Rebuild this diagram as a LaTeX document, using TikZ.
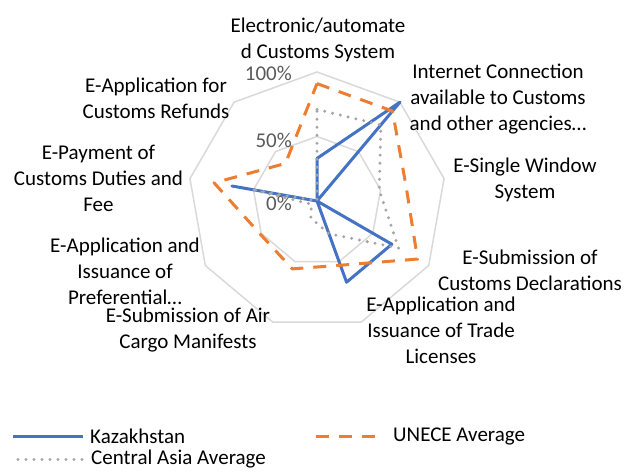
\documentclass[tikz,border=0pt]{standalone}
\usepackage{fontspec}
\setmainfont{Carlito}
\usepackage{xcolor}
\usepackage{tikz}

\definecolor{kazblue}{HTML}{4472C4}
\definecolor{uneceorange}{HTML}{ED7D31}
\definecolor{cagray}{HTML}{A5A5A5}
\definecolor{ringgray}{HTML}{D9D9D9}
\definecolor{ticktext}{HTML}{595959}

% series values, clockwise from the top axis
\newcommand{\kazvals}{0.33,1,0,0.67,0.67,0,0,0.67,0}
\newcommand{\unecevals}{0.91,0.91,0.70,0.90,0.53,0.56,0.51,0.81,0.38}
\newcommand{\cavals}{0.71,0.77,0.49,0.73,0.27,0.14,0.05,0.52,0}

\begin{document}
\begin{tikzpicture}[x=1pt,y=1pt,
    ring/.style={ringgray,line width=1.5pt},
    kazline/.style={kazblue,line width=3pt,line join=round},
    unline/.style={uneceorange,line width=3pt,line join=round,dash pattern=on 13pt off 10pt},
    caline/.style={cagray,line width=3.3pt,line cap=round,line join=round,dash pattern=on 0pt off 8pt},
    catlabel/.style={align=center,inner sep=0pt,font=\fontsize{21}{26}\selectfont},
    ticklabel/.style={anchor=east,inner sep=0pt,text=ticktext,font=\fontsize{21}{26}\selectfont},
    legtext/.style={anchor=west,inner sep=0pt,font=\fontsize{21}{26}\selectfont}]
    \useasboundingbox (0,0) rectangle (628,471);

    \begin{scope}[shift={(317,270)}]
        % Grid rings
        \foreach \r in {64.5,129}
            \draw[ring] (90:\r) \foreach \i in {1,...,8} {-- (90-40*\i:\r)} -- cycle;

        % Tick labels
        \node[ticklabel] (t0) at (-25,-2) {0\%};
        \node[ticklabel] (t50) at (-25,61) {50\%};
        \node[ticklabel] (t100) at (-25,128) {100\%};

        % Series points
        \foreach \v [count=\i from 0] in \kazvals
            \coordinate (kaz\i) at (90-40*\i:129*\v);
        \foreach \v [count=\i from 0] in \unecevals
            \coordinate (un\i) at (90-40*\i:129*\v);
        \foreach \v [count=\i from 0] in \cavals
            \coordinate (ca\i) at (90-40*\i:129*\v);

        % Series
        \draw[kazline] (kaz0) \foreach \i in {1,...,8} {-- (kaz\i)} -- cycle;
        \draw[unline] (un0) \foreach \i in {1,...,8} {-- (un\i)} -- cycle;
        \draw[caline] (ca0) \foreach \i in {1,...,8} {-- (ca\i)} -- cycle;
    \end{scope}

    % Category labels
    \node[catlabel] (c0) at (318,431.5) {Electronic/automate\\d Customs System};
    \node[catlabel] (c1) at (498,372) {Internet Connection\\available to Customs\\and other agencies…};
    \node[catlabel] (c2) at (525,291) {E-Single Window\\System};
    \node[catlabel] (c3) at (530,201) {E-Submission of\\Customs Declarations};
    \node[catlabel] (c4) at (441,141) {E-Application and\\Issuance of Trade\\Licenses};
    \node[catlabel] (c5) at (188,141) {E-Submission of Air\\Cargo Manifests};
    \node[catlabel] (c6) at (125,200) {E-Application and\\Issuance of\\Preferential…};
    \node[catlabel] (c7) at (98.5,293) {E-Payment of\\Customs Duties and\\Fee};
    \node[catlabel] (c8) at (156,372.5) {E-Application for\\Customs Refunds};

    % Legend
    \node[legtext] (kazleg) at (90,35) {Kazakhstan};
    \draw[kazline] ([xshift=-7pt]kazleg.west) -- ++(-70,0);
    \node[legtext] (unleg) at (393,35) {UNECE Average};
    \draw[unline] ([xshift=-18pt]unleg.west) -- ++(-60,0);
    \node[legtext] (caleg) at (91,11.5) {Central Asia Average};
    \draw[caline] ([xshift=-9pt]caleg.west) -- ++(-70,0);
\end{tikzpicture}
\end{document}
